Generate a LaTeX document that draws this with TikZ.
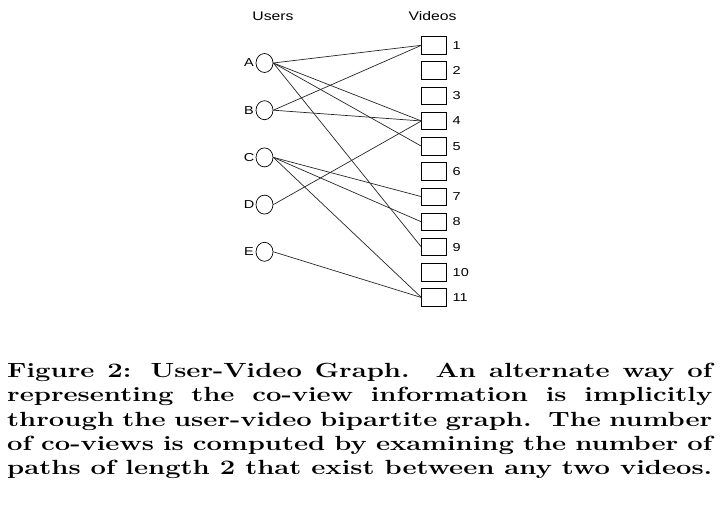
\documentclass[tikz,border=0pt]{standalone}
\usepackage{fontspec}
\usepackage{graphicx}
\newfontfamily\arialf{Liberation Sans}
\usetikzlibrary{shapes.geometric}
\newcommand{\hstretch}[1]{\scalebox{1.26}[1]{#1}}
\newcommand{\capline}[1]{\scalebox{1.338}[1]{\makebox[527pt][s]{#1}}}
\begin{document}
\begin{tikzpicture}[x=1pt,y=-1pt,
  user/.style={draw, ellipse, minimum width=17pt, minimum height=19pt, inner sep=0pt, line width=0.7pt},
  video/.style={draw, rectangle, minimum width=24.5pt, minimum height=17.5pt, inner sep=0pt, line width=0.7pt},
  lab/.style={font=\arialf\fontsize{11.5}{13}\selectfont, inner sep=0pt},
  head/.style={font=\arialf\fontsize{12.5}{15}\selectfont, inner sep=0pt},
  edge/.style={line width=0.7pt, black!85}]
\useasboundingbox (0,0) rectangle (720,519);
\node[head] (users) at (273,16) {\hstretch{Users}};
\node[head] (videos) at (432.5,16) {\hstretch{Videos}};
\foreach \n/\y in {A/63,B/110.2,C/157.4,D/204.6,E/251.8}{
  \node[user] (\n) at (264.5,\y) {};
  \node[lab] (l\n) at (249,\y) {\hstretch{\n}};
}
\foreach \i in {1,...,11}{
  \node[video] (v\i) at (434,{45.3+25.22*(\i-1)}) {};
  \node[lab, anchor=west] (n\i) at (452.5,{45.3+25.22*(\i-1)}) {\hstretch{\i}};
}
\foreach \u/\v in {A/1,A/4,A/5,A/9,B/1,B/4,C/7,C/8,C/11,D/4,E/11}{
  \draw[edge] (\u.east) -- (v\v.west);
}
\node[anchor=base west, inner sep=0pt, align=left,
  font=\bfseries\fontsize{20.5}{24.25}\selectfont] (cap) at (7,474.5) {%
\capline{Figure 2: User-Video Graph.\ \ An alternate way of}\\
\capline{representing the co-view information is implicitly}\\
\capline{through the user-video bipartite graph.\ \ The number}\\
\capline{of co-views is computed by examining the number of}\\
\capline{paths of length 2 that exist between any two videos.}};
\end{tikzpicture}
\end{document}
